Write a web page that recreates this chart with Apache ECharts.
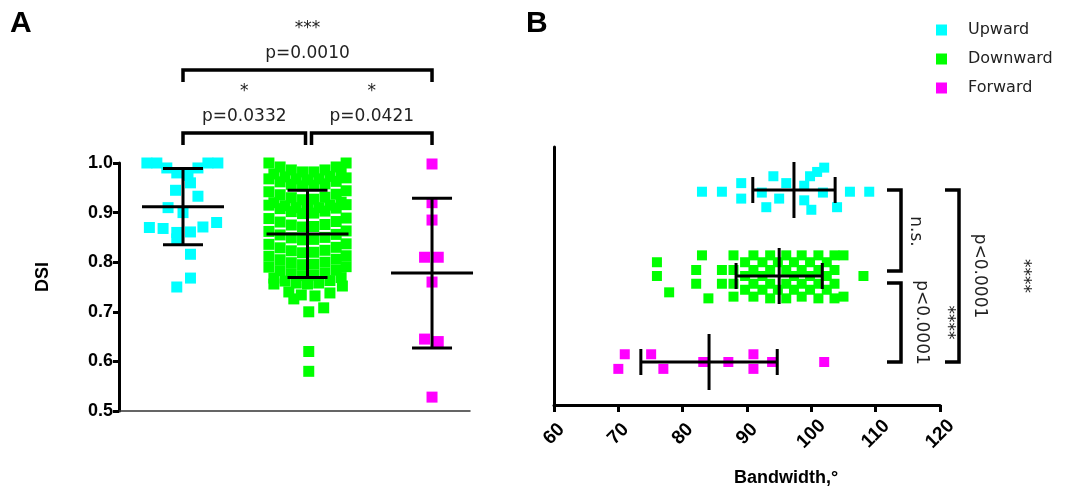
<!DOCTYPE html>
<html>
<head>
<meta charset="utf-8">
<title>DSI and bandwidth by direction</title>
<script src="https://cdn.jsdelivr.net/npm/echarts@6/dist/echarts.min.js"></script>
<style>
  html, body { margin: 0; padding: 0; background: #fff; }
  #chart { width: 1075px; height: 488px; }
</style>
</head>
<body>
<div id="chart"></div>
<script>
// ---- data ----
const categories = ['Upward', 'Downward', 'Forward'];

// Panel A: DSI per cell, [category position (1..3) with swarm offset, DSI]
const upwardDSI = [
  [0.71, 1.000], [0.79, 1.000], [0.87, 0.990], [0.95, 0.980], [1.04, 0.975], [1.12, 0.990],
  [1.20, 1.000], [1.28, 1.000], [1.06, 0.960], [0.94, 0.945], [1.12, 0.933], [0.88, 0.910],
  [1.00, 0.900], [0.73, 0.870], [0.84, 0.868], [0.95, 0.860], [0.95, 0.847], [1.06, 0.861],
  [1.16, 0.871], [1.27, 0.880], [1.06, 0.816], [1.06, 0.768], [0.95, 0.750]
];
const downwardDSI = [
  [1.69, 1.000], [1.78, 0.992], [1.87, 0.986], [1.96, 0.982], [2.05, 0.982], [2.14, 0.986], [2.23, 0.992], [2.31, 1.000],
  [1.73, 0.978], [1.82, 0.972], [1.91, 0.968], [2.00, 0.966], [2.09, 0.968], [2.18, 0.973], [2.27, 0.979],
  [1.69, 0.968], [1.78, 0.962], [1.87, 0.957], [1.96, 0.954], [2.05, 0.955], [2.14, 0.958], [2.23, 0.963], [2.31, 0.970],
  [1.69, 0.942], [1.78, 0.936], [1.87, 0.930], [1.96, 0.926], [2.05, 0.927], [2.14, 0.931], [2.23, 0.937], [2.31, 0.944],
  [1.73, 0.920], [1.82, 0.914], [1.91, 0.910], [2.00, 0.908], [2.09, 0.910], [2.18, 0.915], [2.27, 0.921],
  [1.69, 0.915], [1.78, 0.908], [1.87, 0.902], [1.96, 0.898], [2.05, 0.899], [2.14, 0.903], [2.23, 0.909], [2.31, 0.916],
  [1.69, 0.888], [1.78, 0.881], [1.87, 0.875], [1.96, 0.871], [2.05, 0.872], [2.14, 0.876], [2.23, 0.882], [2.31, 0.889],
  [1.69, 0.862], [1.78, 0.855], [1.87, 0.849], [1.96, 0.845], [2.05, 0.846], [2.14, 0.850], [2.23, 0.856], [2.31, 0.863],
  [1.69, 0.836], [1.78, 0.829], [1.87, 0.823], [1.96, 0.819], [2.05, 0.820], [2.14, 0.824], [2.23, 0.830], [2.31, 0.837],
  [1.69, 0.812], [1.78, 0.805], [1.87, 0.799], [1.96, 0.795], [2.05, 0.796], [2.14, 0.800], [2.23, 0.806], [2.31, 0.813],
  [1.69, 0.790], [1.78, 0.783], [1.87, 0.777], [1.96, 0.773], [2.05, 0.774], [2.14, 0.778], [2.23, 0.784], [2.31, 0.791],
  [1.73, 0.768], [1.82, 0.762], [1.91, 0.758], [2.00, 0.756], [2.09, 0.758], [2.18, 0.763], [2.27, 0.769],
  [1.73, 0.756], [1.85, 0.740], [1.89, 0.726], [1.95, 0.734], [2.06, 0.732], [2.18, 0.738], [2.28, 0.752],
  [2.01, 0.700], [2.13, 0.708], [2.01, 0.620], [2.01, 0.580]
];
const forwardDSI = [
  [3.00, 0.998], [3.00, 0.920], [3.00, 0.885], [2.94, 0.810], [3.05, 0.810],
  [3.00, 0.760], [2.94, 0.645], [3.05, 0.640], [3.00, 0.528]
];
// mean and SD of DSI for each group
const dsiMean = [0.912, 0.857, 0.778];
const dsiSD = [0.077, 0.088, 0.151];

// Panel B: bandwidth per cell, [bandwidth in degrees, row (1..3) with swarm offset]
const upwardBW = [
  [83.0, 1.02], [86.1, 1.02], [89.1, 0.92], [89.1, 1.10], [92.3, 1.03], [93.0, 1.20], [94.1, 0.84],
  [95.0, 1.10], [96.1, 0.92], [98.9, 0.95], [98.9, 1.12], [99.8, 0.84], [100.0, 1.23], [100.9, 0.79],
  [102.0, 0.74], [101.8, 1.03], [104.0, 1.20], [106.0, 1.02], [109.0, 1.02]
];
const downwardBW = [
  [76.0, 1.84], [76.0, 2.00], [77.9, 2.19], [82.1, 1.93], [82.1, 2.09], [83.0, 1.76], [84.0, 2.26], [86.1, 1.93], [86.1, 2.09],
  [87.9, 1.76], [87.9, 1.93], [87.9, 2.09], [87.9, 2.24],
  [89.7, 1.84], [89.7, 2.00], [89.7, 2.16],
  [91.0, 1.76], [91.0, 1.93], [91.0, 2.09], [91.0, 2.24],
  [92.4, 1.84], [92.4, 2.00], [92.4, 2.16],
  [93.6, 1.76], [93.6, 1.93], [93.6, 2.09], [93.6, 2.26],
  [94.8, 1.84], [94.8, 2.16],
  [96.1, 1.76], [96.1, 1.93], [96.1, 2.09], [96.1, 2.26],
  [97.3, 1.84], [97.3, 2.00], [97.3, 2.16],
  [98.5, 1.76], [98.5, 1.93], [98.5, 2.09], [98.5, 2.24],
  [99.8, 1.84], [99.8, 2.00], [99.8, 2.16],
  [101.1, 1.76], [101.1, 1.93], [101.1, 2.09], [101.1, 2.26],
  [102.4, 1.84], [102.4, 2.00], [102.4, 2.16],
  [103.6, 1.76], [103.6, 1.93], [103.6, 2.09], [103.6, 2.26],
  [105.0, 1.76], [105.0, 2.24],
  [108.1, 2.00]
];
const forwardBW = [
  [71.0, 2.91], [70.0, 3.08], [75.1, 2.91], [77.0, 3.08], [83.2, 3.00],
  [87.1, 3.00], [91.0, 2.91], [91.0, 3.08], [93.9, 3.00], [102.0, 3.00]
];
// mean and SD of bandwidth for each group
const bwMean = [97.3, 95.0, 84.1];
const bwSD = [6.4, 6.7, 10.6];

// x tick labels of panel B
const bwTicks = [60, 70, 80, 90, 100, 110, 120];

// pairwise comparisons
const dsiTests = [
  { from: 0, to: 2, stars: '***', p: 'p=0.0010' },
  { from: 0, to: 1, stars: '*', p: 'p=0.0332' },
  { from: 1, to: 2, stars: '*', p: 'p=0.0421' }
];
const bwTests = [
  { from: 0, to: 1, stars: '', p: 'n.s.' },
  { from: 1, to: 2, stars: '****', p: 'p<0.0001' },
  { from: 0, to: 2, stars: '****', p: 'p<0.0001' }
];

// ---- styles ----
const COLORS = ['#00FFFF', '#00FF00', '#FF00FF'];
const AXIS_FONT = '"Liberation Sans", Arial, sans-serif';
const TEXT_FONT = '"DejaVu Sans", Verdana, sans-serif';

const chart = echarts.init(document.getElementById('chart'), null, { renderer: 'canvas' });

function errorBarA(params, api) {
  const x = api.value(0), m = api.value(1), s = api.value(2);
  const c = api.coord([x, m]);
  const t = api.coord([x, m + s]);
  const b = api.coord([x, m - s]);
  const st = { stroke: '#000', lineWidth: 3 };
  return {
    type: 'group',
    children: [
      { type: 'line', shape: { x1: c[0] - 41, y1: c[1], x2: c[0] + 41, y2: c[1] }, style: st },
      { type: 'line', shape: { x1: c[0], y1: t[1], x2: c[0], y2: b[1] }, style: st },
      { type: 'line', shape: { x1: c[0] - 20, y1: t[1], x2: c[0] + 20, y2: t[1] }, style: st },
      { type: 'line', shape: { x1: c[0] - 20, y1: b[1], x2: c[0] + 20, y2: b[1] }, style: st }
    ]
  };
}
function errorBarB(params, api) {
  const m = api.value(0), y = api.value(1), s = api.value(2);
  const c = api.coord([m, y]);
  const l = api.coord([m - s, y]);
  const r = api.coord([m + s, y]);
  const st = { stroke: '#000', lineWidth: 3 };
  return {
    type: 'group',
    children: [
      { type: 'line', shape: { x1: c[0], y1: c[1] - 28, x2: c[0], y2: c[1] + 28 }, style: st },
      { type: 'line', shape: { x1: l[0], y1: c[1], x2: r[0], y2: c[1] }, style: st },
      { type: 'line', shape: { x1: l[0], y1: c[1] - 13, x2: l[0], y2: c[1] + 13 }, style: st },
      { type: 'line', shape: { x1: r[0], y1: c[1] - 13, x2: r[0], y2: c[1] + 13 }, style: st }
    ]
  };
}

const dsiSets = [upwardDSI, downwardDSI, forwardDSI];
const bwSets = [upwardBW, downwardBW, forwardBW];

const series = [];
categories.forEach((name, i) => {
  series.push({
    name, type: 'scatter', xAxisIndex: 0, yAxisIndex: 0,
    symbol: 'rect', symbolSize: 11, data: dsiSets[i],
    itemStyle: { color: COLORS[i], opacity: 1 }, silent: true, z: 2
  });
});
categories.forEach((name, i) => {
  series.push({
    name, type: 'scatter', xAxisIndex: 1, yAxisIndex: 1,
    symbol: 'rect', symbolSize: 10, data: bwSets[i],
    itemStyle: { color: COLORS[i], opacity: 1 }, silent: true, z: 2
  });
});
series.push({
  type: 'custom', xAxisIndex: 0, yAxisIndex: 0, renderItem: errorBarA, silent: true, z: 5,
  data: categories.map((c, i) => [i + 1, dsiMean[i], dsiSD[i]])
});
series.push({
  type: 'custom', xAxisIndex: 1, yAxisIndex: 1, renderItem: errorBarB, silent: true, z: 5,
  data: categories.map((c, i) => [bwMean[i], i + 1, bwSD[i]])
});

const option = {
  animation: false,
  backgroundColor: '#fff',
  legend: {
    data: categories.map((c, i) => ({ name: c, itemStyle: { color: COLORS[i] } })),
    orient: 'vertical', left: 931, top: 17,
    icon: 'rect', itemWidth: 11, itemHeight: 11, itemGap: 13,
    selectedMode: false,
    textStyle: { fontFamily: TEXT_FONT, fontSize: 16, color: '#222', padding: [0, 0, 0, 16] }
  },
  grid: [
    { left: 119, top: 163, width: 351, height: 248 },
    { left: 554, top: 147, width: 386, height: 258 }
  ],
  xAxis: [
    {
      gridIndex: 0, type: 'value', min: 0.486, max: 3.305,
      axisLine: { show: true, lineStyle: { color: '#333', width: 1.5 } },
      axisTick: { show: false }, axisLabel: { show: false }, splitLine: { show: false }
    },
    {
      gridIndex: 1, type: 'value', min: bwTicks[0], max: bwTicks[bwTicks.length - 1], interval: 10,
      axisLine: { show: true, lineStyle: { color: '#000', width: 3 } },
      axisTick: { show: true, length: 7, lineStyle: { color: '#000', width: 3 } },
      axisLabel: {
        rotate: 45, margin: 29, align: 'center', verticalAlign: 'middle',
        color: '#000', fontFamily: AXIS_FONT, fontWeight: 'bold', fontSize: 19,
        showMinLabel: true, showMaxLabel: true
      },
      splitLine: { show: false }
    }
  ],
  yAxis: [
    {
      gridIndex: 0, type: 'value', min: 0.5, max: 1.0, interval: 0.1,
      axisLine: { show: true, lineStyle: { color: '#000', width: 3 } },
      axisTick: { show: true, length: 6, lineStyle: { color: '#000', width: 3 } },
      axisLabel: {
        margin: 6, color: '#000', fontFamily: AXIS_FONT, fontWeight: 'bold', fontSize: 18,
        formatter: v => v.toFixed(1)
      },
      splitLine: { show: false }
    },
    {
      gridIndex: 1, type: 'value', min: 0.5, max: 3.5, inverse: true,
      axisLine: { show: true, lineStyle: { color: '#000', width: 3 } },
      axisTick: { show: false }, axisLabel: { show: false }, splitLine: { show: false }
    }
  ],
  series
};
chart.setOption(option);

// ---- annotations: panel letters, axis titles, significance brackets ----
const BR = { stroke: '#000', lineWidth: 3.5, fill: null };
const g = [];
g.push({ type: 'text', left: 10, top: 9, style: { text: 'A', font: 'bold 30px ' + AXIS_FONT, fill: '#000' } });
g.push({ type: 'text', left: 526, top: 9, style: { text: 'B', font: 'bold 30px ' + AXIS_FONT, fill: '#000' } });
g.push({
  type: 'text', x: 43, y: 277, rotation: Math.PI / 2,
  style: { text: 'DSI', font: 'bold 18px ' + AXIS_FONT, fill: '#000', align: 'center', verticalAlign: 'middle' }
});
g.push({
  type: 'text', x: 786, y: 478,
  style: { text: 'Bandwidth,°', font: 'bold 18px ' + AXIS_FONT, fill: '#000', align: 'center', verticalAlign: 'middle' }
});

const px = i => chart.convertToPixel({ xAxisIndex: 0 }, i + 1);
const py = i => chart.convertToPixel({ yAxisIndex: 1 }, i + 1);

// panel A brackets
dsiTests.forEach(t => {
  let x1 = px(t.from), x2 = px(t.to);
  const wide = (t.to - t.from) > 1;
  const yTop = wide ? 70 : 133;
  const drop = 12;
  if (!wide) {
    if (t.from === 1) x1 += 4; else x2 -= 2;
  }
  g.push({ type: 'polyline', shape: { points: [[x1, yTop + drop], [x1, yTop], [x2, yTop], [x2, yTop + drop]] }, style: BR });
  const cx = (x1 + x2) / 2;
  g.push({ type: 'text', x: cx, y: yTop - 16, style: { text: t.p, font: '17px ' + TEXT_FONT, fill: '#222', align: 'center', verticalAlign: 'middle' } });
  g.push({ type: 'text', x: cx, y: yTop - 41, style: { text: t.stars, font: '17px ' + TEXT_FONT, fill: '#222', align: 'center', verticalAlign: 'middle' } });
});

// panel B brackets
bwTests.forEach(t => {
  let y1 = py(t.from), y2 = py(t.to);
  const wide = (t.to - t.from) > 1;
  const xr = wide ? 959 : 901;
  const tick = 14;
  if (!wide) {
    if (t.from === 0) y2 -= 5; else y1 += 7;
  }
  g.push({ type: 'polyline', shape: { points: [[xr - tick, y1], [xr, y1], [xr, y2], [xr - tick, y2]] }, style: BR });
  const cy = (y1 + y2) / 2;
  if (t.p === 'n.s.') {
    g.push({ type: 'text', x: 915, y: cy + 1, rotation: -Math.PI / 2, style: { text: t.p, font: '17px ' + TEXT_FONT, fill: '#222', align: 'center', verticalAlign: 'middle' } });
  } else {
    g.push({ type: 'text', x: xr + 20, y: cy, rotation: -Math.PI / 2, style: { text: t.p, font: '17px ' + TEXT_FONT, fill: '#222', align: 'center', verticalAlign: 'middle' } });
    g.push({ type: 'text', x: xr + (wide ? 64 : 46), y: cy, rotation: -Math.PI / 2, style: { text: t.stars, font: '17px ' + TEXT_FONT, fill: '#222', align: 'center', verticalAlign: 'middle' } });
  }
});

chart.setOption({ graphic: g });
</script>
</body>
</html>
